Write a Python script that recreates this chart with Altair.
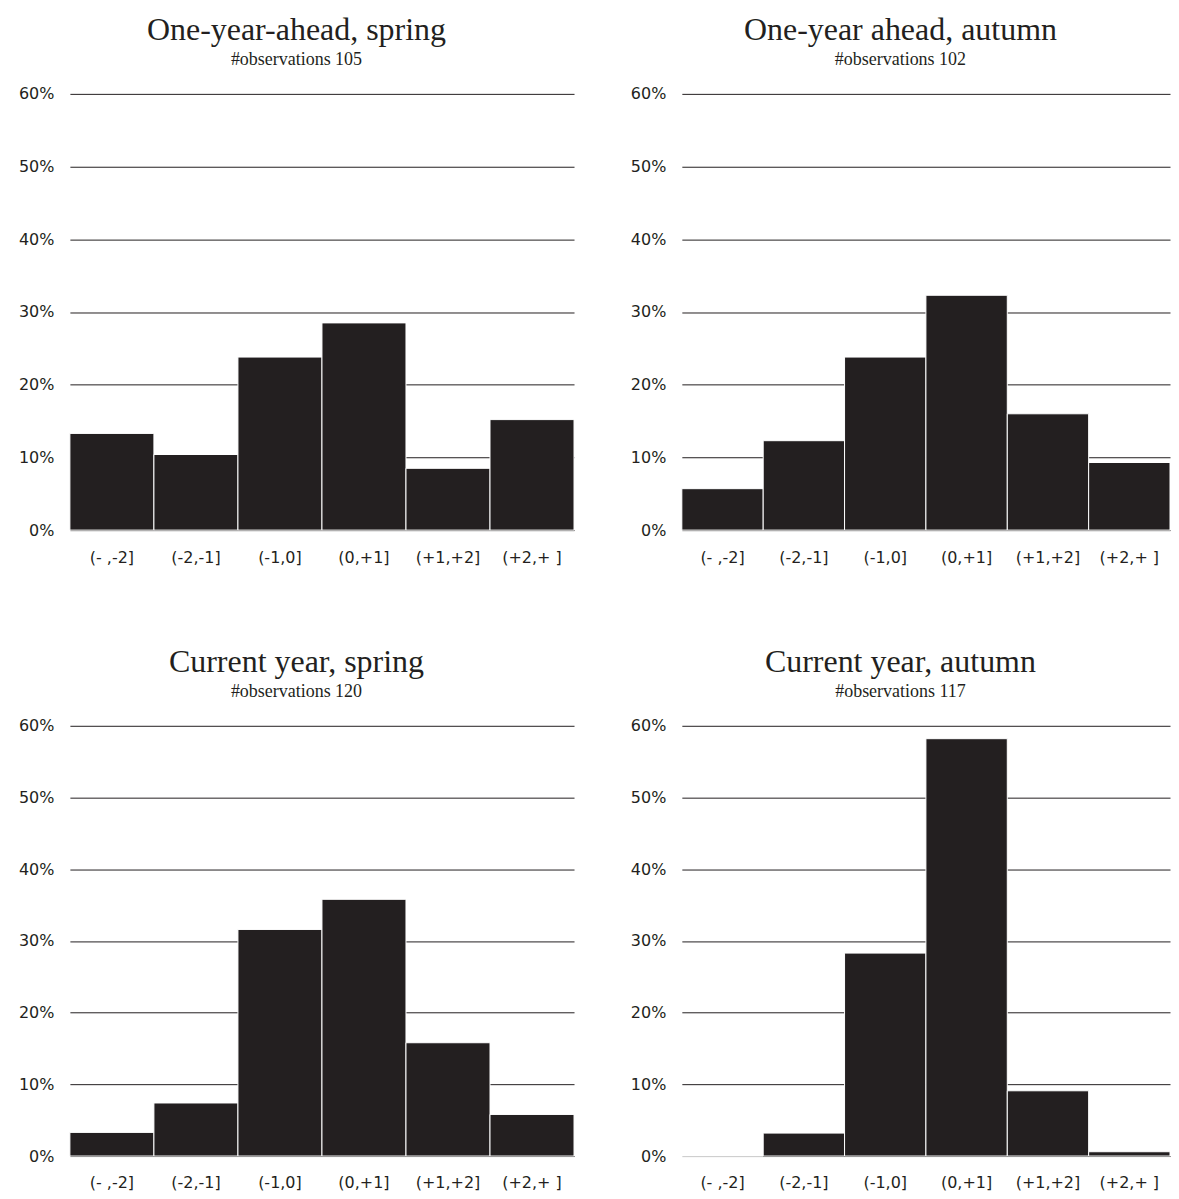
import altair as alt
import pandas as pd

categories = ["(- ,-2]", "(-2,-1]", "(-1,0]", "(0,+1]", "(+1,+2]", "(+2,+ ]"]
titles = ["One-year-ahead, spring", "One-year ahead, autumn",
          "Current year, spring", "Current year, autumn"]
observations = [105, 102, 120, 117]

one_year_spring = [13.3, 10.4, 23.8, 28.5, 8.5, 15.2]
one_year_autumn = [5.7, 12.3, 23.8, 32.3, 16.0, 9.3]
current_spring = [3.3, 7.4, 31.6, 35.8, 15.8, 5.8]
current_autumn = [0.0, 3.2, 28.3, 58.2, 9.1, 0.6]

series = [one_year_spring, one_year_autumn, current_spring, current_autumn]

DARK = "#231f20"
SANS = "DejaVu Sans"
SERIF = "Liberation Serif"


def panel(idx, width, height):
    df = pd.DataFrame({"cat": categories,
                       "share": [v / 100 for v in series[idx]]})
    return alt.Chart(df).mark_bar(
        color=DARK, stroke="white", strokeWidth=1
    ).encode(
        x=alt.X("cat:N", sort=categories, title=None,
                scale=alt.Scale(paddingInner=0, paddingOuter=0),
                axis=alt.Axis(labelAngle=0, ticks=False, tickSize=0, domain=False,
                              labelFont=SANS, labelFontSize=16, labelColor=DARK,
                              labelPadding=19)),
        y=alt.Y("share:Q", title=None,
                scale=alt.Scale(domain=[0, 0.6], nice=False),
                axis=alt.Axis(values=[0, 0.1, 0.2, 0.3, 0.4, 0.5, 0.6], format=".0%",
                              ticks=False, tickSize=0, domain=False,
                              grid=True, gridColor=DARK, gridWidth=1, gridOpacity=1,
                              labelFont=SANS, labelFontSize=16, labelColor=DARK,
                              labelPadding=16)),
    ).properties(
        width=width, height=height,
        title=alt.TitleParams(
            text=titles[idx],
            subtitle=f"#observations {observations[idx]}",
            font=SERIF, fontSize=32, fontWeight="normal", color=DARK,
            subtitleFont=SERIF, subtitleFontSize=18, subtitleColor=DARK,
            subtitlePadding=4, anchor="middle", frame="bounds", offset=16,
        ),
    )


row1 = alt.hconcat(panel(0, 505, 437), panel(1, 489, 437), spacing=55)
row2 = alt.hconcat(panel(2, 505, 431), panel(3, 489, 431), spacing=55)

chart = alt.vconcat(row1, row2, spacing=81).properties(
    padding={"left": 10, "top": 5, "right": 0, "bottom": 0}
).configure_view(stroke=None).configure_axis(gridCap="butt")

chart.save("out.html", embed_options={"renderer": "svg", "actions": False})
